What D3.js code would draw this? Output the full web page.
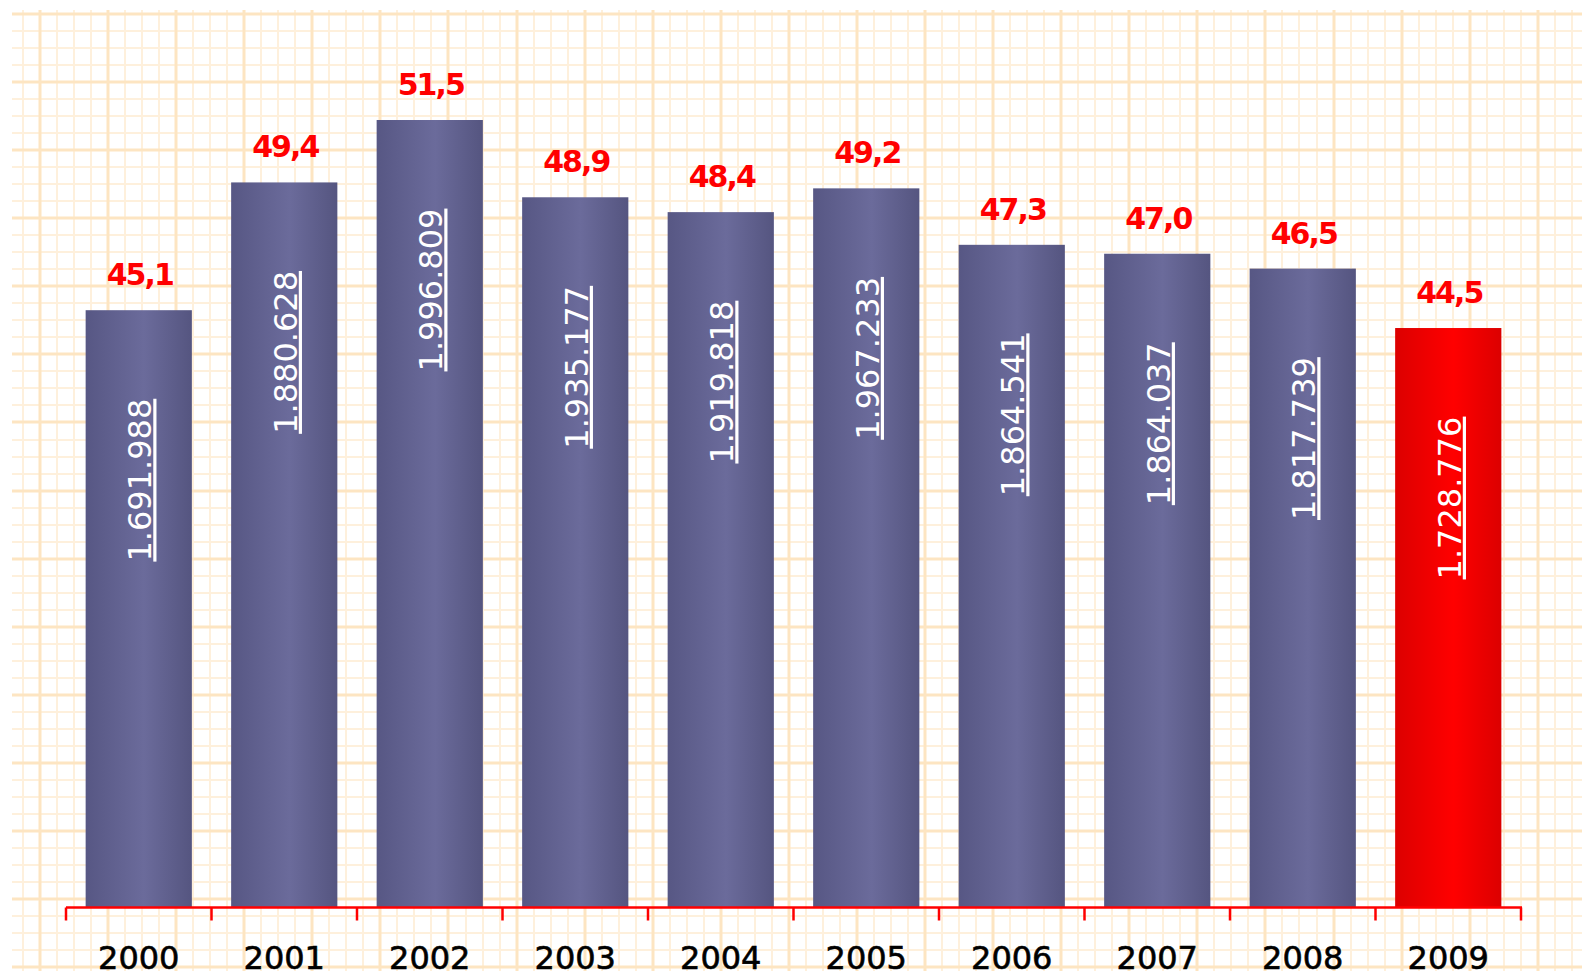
<!DOCTYPE html>
<html>
<head>
    <meta charset="utf-8">
    <title>Bar Chart</title>
    <style>
        body {
            margin: 0;
            background: #fff;
        }

        .grid-minor {
            stroke: #fef0dc;
            stroke-width: 2;
        }

        .grid-major {
            stroke: #fde5c2;
            stroke-width: 3;
        }

        .axis-line {
            stroke: #ff0000;
            stroke-width: 2.5;
            fill: none;
        }

        .pct {
            fill: #ff0000;
            font-family: "DejaVu Sans", sans-serif;
            font-weight: bold;
            font-size: 30px;
            letter-spacing: -2px;
            text-anchor: middle;
        }

        .inner {
            fill: #ffffff;
            font-family: "DejaVu Sans", sans-serif;
            font-size: 32px;
            text-anchor: middle;
            text-decoration: underline;
        }

        .year {
            fill: #000000;
            stroke: #000000;
            stroke-width: 0.6;
            font-family: "DejaVu Sans", sans-serif;
            font-size: 32px;
            text-anchor: middle;
        }
    </style>
    <script src="https://d3js.org/d3.v7.min.js"></script>
</head>

<body>
<script type="text/javascript">
    var years = ["2000", "2001", "2002", "2003", "2004", "2005", "2006", "2007", "2008", "2009"];
    var percents = [45.1, 49.4, 51.5, 48.9, 48.4, 49.2, 47.3, 47.0, 46.5, 44.5];
    var totals = ["1.691.988", "1.880.628", "1.996.809", "1.935.177", "1.919.818",
                  "1.967.233", "1.864.541", "1.864.037", "1.817.739", "1.728.776"];
    var highlight = "2009";

    var width = 1582, height = 971;
    var axisY = 907.5, axisLeft = 66, axisRight = 1521;

    var svg = d3.select("body").append("svg")
            .attr("width", width)
            .attr("height", height);

    var defs = svg.append("defs");

    function barGradient(id, edge, mid) {
        var g = defs.append("linearGradient")
                .attr("id", id)
                .attr("x1", "0%").attr("x2", "100%")
                .attr("y1", "0%").attr("y2", "0%");
        g.append("stop").attr("offset", "0%").attr("stop-color", edge[0]);
        g.append("stop").attr("offset", "55%").attr("stop-color", mid);
        g.append("stop").attr("offset", "100%").attr("stop-color", edge[1]);
    }

    barGradient("bar-blue", ["#575784", "#555580"], "#6b6b9b");
    barGradient("bar-red", ["#dc0000", "#dc0000"], "#ff0000");

    // graph paper background
    var step = 68.08, minor = step / 4;
    var gridG = svg.append("g").attr("class", "grid");

    var vLines = d3.range(40 - minor, width, minor);
    var hLines = d3.range(14, height, minor);

    gridG.selectAll("line.v")
            .data(vLines)
            .enter().append("line")
            .attr("class", function (d, i) { return (i % 4 === 1) ? "v grid-major" : "v grid-minor"; })
            .attr("x1", function (d) { return Math.round(d); })
            .attr("x2", function (d) { return Math.round(d); })
            .attr("y1", 10)
            .attr("y2", height);

    gridG.selectAll("line.h")
            .data(hLines)
            .enter().append("line")
            .attr("class", function (d, i) { return (i % 4 === 0) ? "h grid-major" : "h grid-minor"; })
            .attr("x1", 12)
            .attr("x2", width)
            .attr("y1", function (d) { return Math.round(d); })
            .attr("y2", function (d) { return Math.round(d); });

    // re-draw major lines on top of minor ones
    gridG.selectAll(".grid-major").raise();

    var x = d3.scaleBand()
            .domain(years)
            .range([axisLeft, axisRight])
            .paddingInner(0.27)
            .paddingOuter(0.135);

    var y = d3.scaleLinear()
            .domain([25, 55])
            .range([axisY, 16]);

    var data = years.map(function (yr, i) {
        return {year: yr, pct: percents[i], total: totals[i]};
    });

    var bars = svg.append("g").attr("class", "bars");

    bars.selectAll("rect")
            .data(data)
            .enter().append("rect")
            .attr("x", function (d) { return x(d.year); })
            .attr("y", function (d) { return y(d.pct); })
            .attr("width", x.bandwidth())
            .attr("height", function (d) { return axisY - y(d.pct); })
            .attr("fill", function (d) { return d.year === highlight ? "url(#bar-red)" : "url(#bar-blue)"; });

    bars.selectAll("text.pct")
            .data(data)
            .enter().append("text")
            .attr("class", "pct")
            .attr("x", function (d) { return x(d.year) + x.bandwidth() / 2 + 1; })
            .attr("y", function (d) { return y(d.pct) - 25; })
            .text(function (d) { return d3.format(".1f")(d.pct).replace(".", ","); });

    bars.selectAll("text.inner")
            .data(data)
            .enter().append("text")
            .attr("class", "inner")
            .attr("transform", function (d) {
                var cx = x(d.year) + x.bandwidth() / 2 + 1;
                var cy = y(d.pct) + 170;
                return "translate(" + cx + "," + cy + ") rotate(-90)";
            })
            .attr("dy", "0.36em")
            .text(function (d) { return d.total; });

    // x axis: red baseline with ticks between categories
    var tickPos = years.map(function (yr) { return x(yr) - x.step() * x.paddingInner() / 2; });
    tickPos.push(axisRight);

    var axisG = svg.append("g").attr("class", "x-axis");

    axisG.append("line")
            .attr("class", "axis-line")
            .attr("x1", axisLeft)
            .attr("x2", axisRight + 1)
            .attr("y1", axisY)
            .attr("y2", axisY);

    axisG.selectAll("line.tick")
            .data(tickPos)
            .enter().append("line")
            .attr("class", "axis-line tick")
            .attr("x1", function (d) { return d; })
            .attr("x2", function (d) { return d; })
            .attr("y1", axisY)
            .attr("y2", axisY + 13);

    axisG.selectAll("text.year")
            .data(years)
            .enter().append("text")
            .attr("class", "year")
            .attr("x", function (d) { return x(d) + x.bandwidth() / 2; })
            .attr("y", 969)
            .text(function (d) { return d; });
</script>
</body>
</html>
